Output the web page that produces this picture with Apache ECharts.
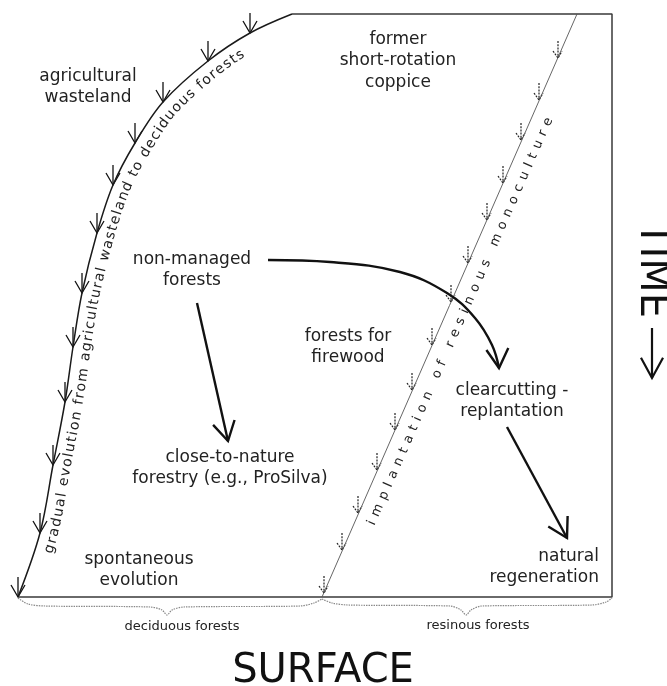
<!DOCTYPE html>
<html lang="en">
<head>
<meta charset="UTF-8">
<title>forest management: surface and time</title>
<script src="https://cdn.jsdelivr.net/npm/echarts@6/dist/echarts.min.js"></script>
<style>
  html, body { margin: 0; padding: 0; background: #fff; }
  #main { width: 667px; height: 686px; }
</style>
</head>
<body>
<div id="main"></div>
<script>
// box outline (top, right side, bottom)
const frame = [[292, 14], [612, 14], [612, 597], [18, 597]];
// curve: gradual evolution from agricultural wasteland
const curvePts = [[292, 14], [250, 33], [208, 61], [163, 102], [135, 143], [113, 185], [97, 233],
  [82, 293], [73, 347], [65, 402], [53, 465], [40, 533], [18, 597]];
const curveArrows = [[250, 33], [208, 61], [163, 102], [135, 143], [113, 185], [97, 233],
  [82, 293], [73, 347], [65, 402], [53, 465], [40, 533], [18, 597]];
// straight line: implantation of resinous monoculture
const diagLine = [[322, 597], [577, 14]];
const diagArrows = [[558, 58], [539, 100], [521, 140], [503, 183], [487, 220], [468, 263], [451, 302],
  [432, 345], [412, 390], [395, 430], [377, 470], [358, 513], [342, 550], [324, 593]];
// thick arrows between the situations
const flowLong = [[268, 260], [330, 262], [400, 272], [447, 293], [475, 318], [492, 345], [499, 368]];
const flowLeft = [[197, 303], [228, 441]];
const flowRight = [[507, 427], [567, 538]];
const flowHeads = [[497, 345, 499, 368], [197, 303, 228, 441], [507, 427, 567, 538]];
// arrow after TIME
const timeArrow = [[652, 328], [652, 378]];
// dotted braces under the box
const braceLeft = [[18, 598], [28, 604], [45, 606], [150, 607], [162, 610], [167, 615],
  [172, 610], [184, 607], [300, 606], [314, 603], [322, 599]];
const braceRight = [[322, 599], [332, 603], [348, 605], [450, 606], [461, 610], [466, 615],
  [471, 610], [482, 606], [592, 605], [606, 602], [612, 598]];

const labels = [
  { text: 'agricultural\nwasteland', at: [88, 87], align: 'center' },
  { text: 'former\nshort-rotation\ncoppice', at: [398, 61], align: 'center' },
  { text: 'non-managed\nforests', at: [192, 270], align: 'center' },
  { text: 'forests for\nfirewood', at: [348, 347], align: 'center' },
  { text: 'clearcutting -\nreplantation', at: [512, 401], align: 'center' },
  { text: 'close-to-nature\nforestry (e.g., ProSilva)', at: [230, 468], align: 'center' },
  { text: 'spontaneous\nevolution', at: [139, 570], align: 'center' },
  { text: 'natural\nregeneration', at: [599, 567], align: 'right' }
];
const braceLabels = [
  { text: 'deciduous forests', at: [182, 627] },
  { text: 'resinous forests', at: [478, 626] }
];
const axisTitles = [
  { text: 'SURFACE', at: [323, 672], rot: 0 },
  { text: 'TIME', at: [651, 270], rot: -90 }
];
const curveText = 'gradual evolution from agricultural wasteland to deciduous forests';
const curveTextEnds = [[48, 550], [243, 58]];
const diagText = 'implantation of resinous monoculture';
const diagTextEnds = [[372, 523], [548, 122]];

const FONT = '"DejaVu Sans", sans-serif';
const measure = document.createElement('canvas').getContext('2d');

function catmull(pts, n) {
  const out = [];
  for (let i = 0; i < pts.length - 1; i++) {
    const p0 = pts[Math.max(i - 1, 0)], p1 = pts[i], p2 = pts[i + 1], p3 = pts[Math.min(i + 2, pts.length - 1)];
    for (let k = 0; k < n; k++) {
      const t = k / n, t2 = t * t, t3 = t2 * t;
      const f = j => 0.5 * (2 * p1[j] + (-p0[j] + p2[j]) * t + (2 * p0[j] - 5 * p1[j] + 4 * p2[j] - p3[j]) * t2 +
        (-p0[j] + 3 * p1[j] - 3 * p2[j] + p3[j]) * t3);
      out.push([f(0), f(1)]);
    }
  }
  out.push(pts[pts.length - 1]);
  return out;
}

// lay a string along a pixel path, first/last char centres near the two anchors
function textOnPath(path, str, anchors, offset, fontSize) {
  const off = path.map((p, i) => {
    const a = path[Math.max(i - 1, 0)], b = path[Math.min(i + 1, path.length - 1)];
    let tx = b[0] - a[0], ty = b[1] - a[1];
    const l = Math.hypot(tx, ty) || 1;
    tx /= l; ty /= l;
    return [p[0] - ty * offset, p[1] + tx * offset];
  });
  const cum = [0];
  for (let i = 1; i < off.length; i++) cum.push(cum[i - 1] + Math.hypot(off[i][0] - off[i - 1][0], off[i][1] - off[i - 1][1]));
  const nearest = q => {
    let best = 0, bd = Infinity;
    off.forEach((p, i) => { const d = Math.hypot(p[0] - q[0], p[1] - q[1]); if (d < bd) { bd = d; best = i; } });
    return cum[best];
  };
  const s0 = nearest(anchors[0]), s1 = nearest(anchors[1]);
  const font = fontSize + 'px ' + FONT;
  measure.font = font;
  const chars = str.split('');
  const w = chars.map(c => measure.measureText(c).width);
  const natural = w.reduce((a, b) => a + b, 0) - w[0] / 2 - w[w.length - 1] / 2;
  const gap = (s1 - s0 - natural) / (chars.length - 1);
  const pointAt = s => {
    let i = 1;
    while (i < cum.length - 1 && cum[i] < s) i++;
    const a = off[i - 1], b = off[i];
    const seg = cum[i] - cum[i - 1] || 1;
    const t = (s - cum[i - 1]) / seg;
    return { x: a[0] + (b[0] - a[0]) * t, y: a[1] + (b[1] - a[1]) * t, ang: Math.atan2(b[1] - a[1], b[0] - a[0]) };
  };
  const children = [];
  let s = s0 - w[0] / 2;
  chars.forEach((c, i) => {
    const p = pointAt(s + w[i] / 2);
    children.push({
      type: 'text', x: p.x, y: p.y, rotation: -p.ang,
      style: { text: c, font: font, fill: '#222', align: 'center', verticalAlign: 'middle' }
    });
    s += w[i] + gap;
  });
  return children;
}

// open V arrowhead at the end of [fromX, fromY, tipX, tipY]
function headItem(len, half, width) {
  return (params, api) => {
    const a = api.coord([api.value(0), api.value(1)]);
    const b = api.coord([api.value(2), api.value(3)]);
    const ang = Math.atan2(a[1] - b[1], a[0] - b[0]);
    const arm = d => [b[0] + len * Math.cos(ang + d), b[1] + len * Math.sin(ang + d)];
    return {
      type: 'polyline', shape: { points: [arm(half), b, arm(-half)] },
      style: { stroke: '#111', lineWidth: width, fill: null, lineJoin: 'miter' }
    };
  };
}

const myChart = echarts.init(document.getElementById('main'));

const lineSeries = (data, color, width, extra) => Object.assign({
  type: 'line', data: data, symbol: 'none', silent: true,
  lineStyle: { color: color, width: width }
}, extra || {});

const option = {
  animation: false,
  grid: { left: 0, right: 0, top: 0, bottom: 0 },
  xAxis: { type: 'value', min: 0, max: 667, show: false },
  yAxis: { type: 'value', min: 0, max: 686, inverse: true, show: false },
  series: [
    lineSeries(frame, '#3a3a3a', 1.5),
    lineSeries(curvePts, '#1a1a1a', 1.5, { smooth: 0.35 }),
    lineSeries(diagLine, '#555', 0.9),
    lineSeries(braceLeft, '#888', 1.2, { smooth: 0.3, lineStyle: { color: '#888', width: 1.2, type: [1.5, 1] } }),
    lineSeries(braceRight, '#888', 1.2, { smooth: 0.3, lineStyle: { color: '#888', width: 1.2, type: [1.5, 1] } }),
    {
      type: 'custom', silent: true, data: curveArrows,
      renderItem: (params, api) => {
        const p = api.coord([api.value(0), api.value(1)]);
        const st = { stroke: '#111', lineWidth: 1.3, fill: null };
        return {
          type: 'group', children: [
            { type: 'line', shape: { x1: p[0], y1: p[1] - 20, x2: p[0], y2: p[1] }, style: st },
            { type: 'polyline', shape: { points: [[p[0] - 7, p[1] - 12], p, [p[0] + 7, p[1] - 12]] }, style: st }
          ]
        };
      }
    },
    {
      type: 'custom', silent: true, data: diagArrows,
      renderItem: (params, api) => {
        const p = api.coord([api.value(0), api.value(1)]);
        const st = { stroke: '#222', lineWidth: 1.2, fill: null, lineDash: [2, 1.2] };
        return {
          type: 'group', children: [
            { type: 'line', shape: { x1: p[0], y1: p[1] - 17, x2: p[0], y2: p[1] }, style: st },
            { type: 'polyline', shape: { points: [[p[0] - 5, p[1] - 7], p, [p[0] + 4, p[1] - 7]] }, style: st }
          ]
        };
      }
    },
    lineSeries(flowLong, '#111', 2.4, { smooth: 0.4 }),
    lineSeries(flowLeft, '#111', 2.4),
    lineSeries(flowRight, '#111', 2.4),
    { type: 'custom', silent: true, data: flowHeads, encode: { x: 0, y: 1 }, renderItem: headItem(22, Math.PI / 6, 2.4) },
    lineSeries(timeArrow, '#111', 2.2),
    { type: 'custom', silent: true, data: [timeArrow[0].concat(timeArrow[1])], encode: { x: 0, y: 1 }, renderItem: headItem(23, 0.5, 2.2) },
    {
      type: 'custom', silent: true, data: labels.map(d => d.at),
      renderItem: (params, api) => {
        const p = api.coord([api.value(0), api.value(1)]);
        const d = labels[params.dataIndex];
        return {
          type: 'text', x: p[0], y: p[1],
          style: { text: d.text, font: '17px ' + FONT, fill: '#222', align: d.align, verticalAlign: 'middle', lineHeight: 21.5 }
        };
      }
    },
    {
      type: 'custom', silent: true, data: braceLabels.map(d => d.at),
      renderItem: (params, api) => {
        const p = api.coord([api.value(0), api.value(1)]);
        return {
          type: 'text', x: p[0], y: p[1],
          style: { text: braceLabels[params.dataIndex].text, font: '13px ' + FONT, fill: '#222', align: 'center', verticalAlign: 'middle' }
        };
      }
    },
    {
      type: 'custom', silent: true, data: axisTitles.map(d => d.at),
      renderItem: (params, api) => {
        const p = api.coord([api.value(0), api.value(1)]);
        const d = axisTitles[params.dataIndex];
        return {
          type: 'text', x: p[0], y: p[1], rotation: d.rot * Math.PI / 180,
          style: { text: d.text, font: '40px ' + FONT, fill: '#111', align: 'center', verticalAlign: 'middle' }
        };
      }
    },
    {
      type: 'custom', silent: true, data: [[0, 0]],
      renderItem: (params, api) => {
        const px = curvePts.map(q => api.coord(q)).reverse();
        const path = catmull(px, 12);
        const a = curveTextEnds.map(q => api.coord(q));
        return { type: 'group', children: textOnPath(path, curveText, a, 14, 14) };
      }
    },
    {
      type: 'custom', silent: true, data: [[0, 0]],
      renderItem: (params, api) => {
        const a = api.coord(diagTextEnds[0]), b = api.coord(diagTextEnds[1]);
        return { type: 'group', children: textOnPath([a, b], diagText, [a, b], 0, 13) };
      }
    }
  ]
};
myChart.setOption(option);
</script>
</body>
</html>
